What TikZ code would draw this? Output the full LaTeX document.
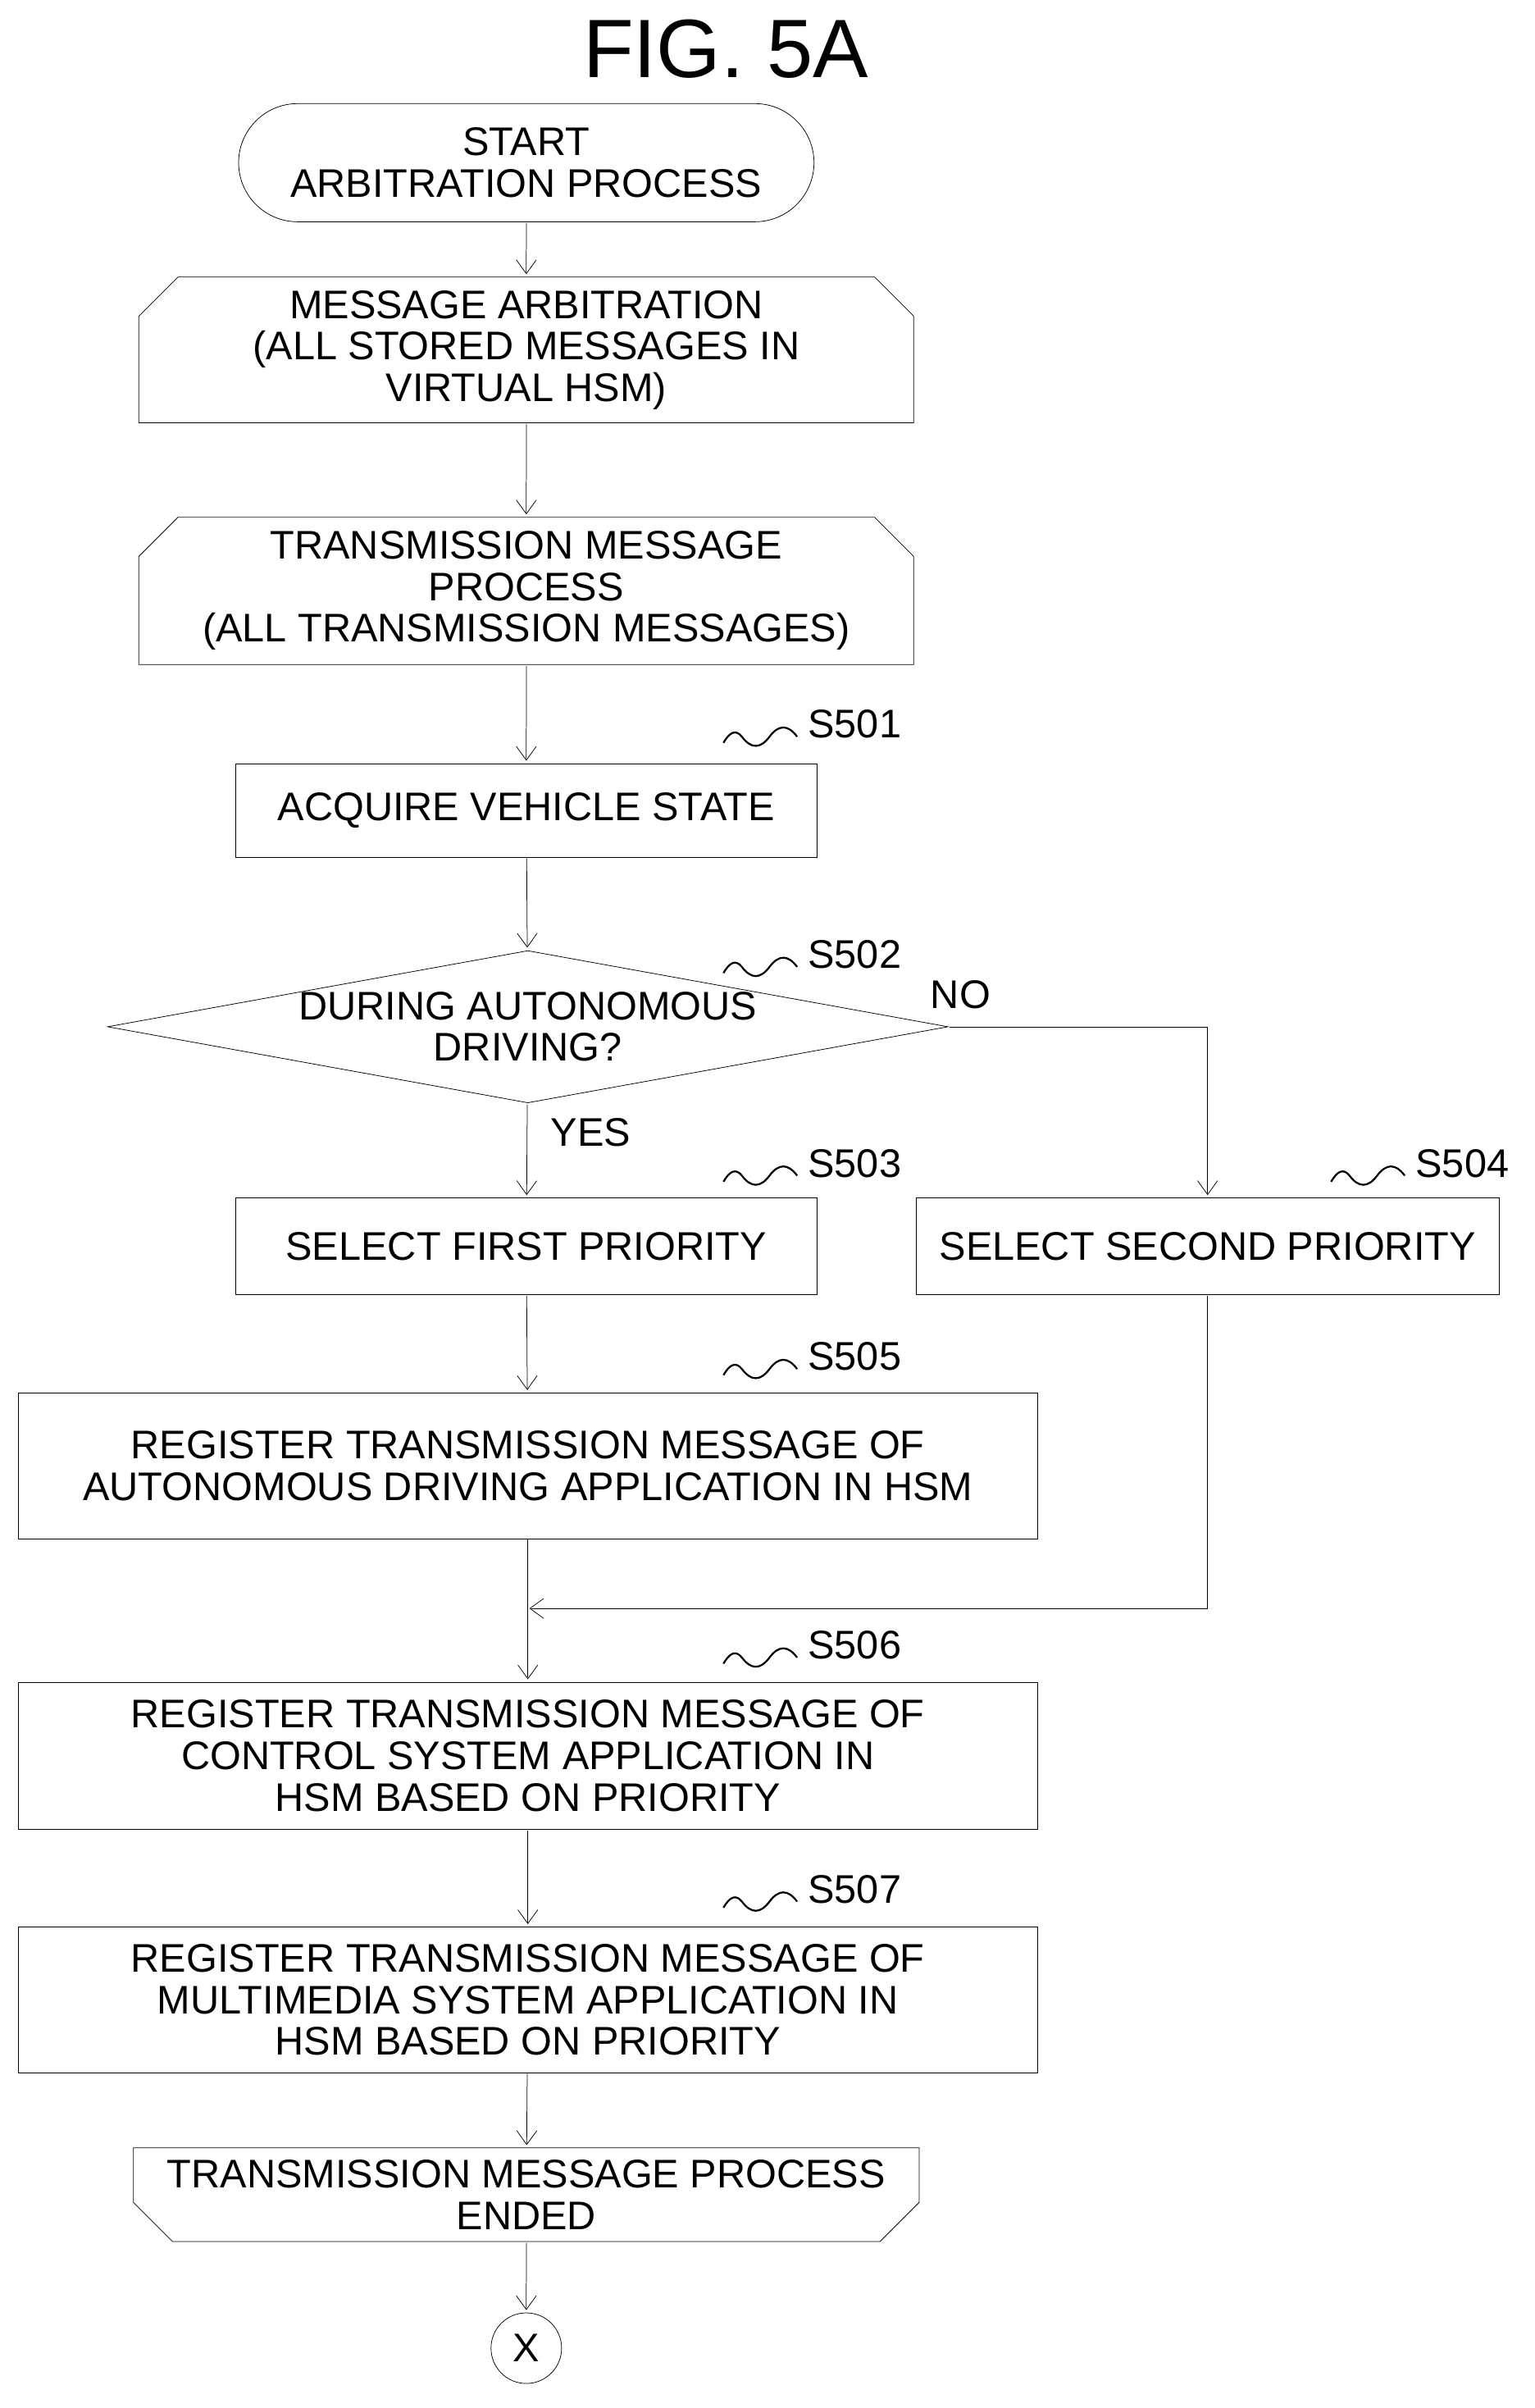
\documentclass[tikz,border=0pt]{standalone}
\usepackage{fontspec}
\setmainfont{Liberation Sans}
\usetikzlibrary{shapes.geometric,shapes.misc,arrows.meta}
\begin{document}
\begin{tikzpicture}[x=1pt,y=-1pt]
\tikzset{ >={Straight Barb[length=9pt,width=13pt]}, line width=1.6pt,
  box/.style={draw, rectangle, inner sep=0pt, align=center, font=\fontsize{26}{27}\selectfont},
  loopbeg/.style={box, chamfered rectangle, chamfered rectangle xsep=22pt,
    chamfered rectangle corners={north east,north west}},
  loopend/.style={box, chamfered rectangle, chamfered rectangle xsep=22pt,
    chamfered rectangle corners={south east,south west}},
  lbl/.style={font=\fontsize{26}{27}\selectfont},
  squig/.pic={\draw[line width=1.2pt] (0,0) .. controls (-6,-8) and (-12,-8) .. (-18,0)
     .. controls (-24,8) and (-30,8) .. (-36,0) .. controls (-40,-5) and (-44,-3) .. (-48,4);}
}
\useasboundingbox (0,0) rectangle (1000,1569);

\node [font=\fontsize{54}{56}\selectfont] (T) at (473,32) {FIG. 5A};

\node [box, rounded rectangle, minimum width=375pt, minimum height=77pt] (ST) at (343,106) {START\\ARBITRATION PROCESS};
\node [loopbeg, minimum width=505pt, minimum height=95pt] (LA) at (343,228) {MESSAGE ARBITRATION\\(ALL STORED MESSAGES IN\\VIRTUAL HSM)};
\node [loopbeg, minimum width=505pt, minimum height=96pt] (LB) at (343,385) {TRANSMISSION MESSAGE\\PROCESS\\(ALL TRANSMISSION MESSAGES)};
\node [box, minimum width=379pt, minimum height=61pt] (S501) at (343,528) {ACQUIRE VEHICLE STATE};
\node [box, diamond, aspect=5.5, minimum width=486pt, minimum height=92pt] (S502) at (344,669) {DURING AUTONOMOUS\\DRIVING?};
\node [box, minimum width=379pt, minimum height=63pt] (S503) at (343,812) {SELECT FIRST PRIORITY};
\node [box, minimum width=380pt, minimum height=63pt] (S504) at (787,812) {SELECT SECOND PRIORITY};
\node [box, minimum width=664pt, minimum height=95pt] (S505) at (344,955) {REGISTER TRANSMISSION MESSAGE OF\\AUTONOMOUS DRIVING APPLICATION IN HSM};
\node [box, minimum width=664pt, minimum height=96pt] (S506) at (344,1144) {REGISTER TRANSMISSION MESSAGE OF\\CONTROL SYSTEM APPLICATION IN\\HSM BASED ON PRIORITY};
\node [box, minimum width=664pt, minimum height=95pt] (S507) at (344,1303) {REGISTER TRANSMISSION MESSAGE OF\\MULTIMEDIA SYSTEM APPLICATION IN\\HSM BASED ON PRIORITY};
\node [loopend, minimum width=505pt, minimum height=61pt] (LE) at (343,1430) {TRANSMISSION MESSAGE PROCESS\\ENDED};
\node [box, circle, minimum size=46pt] (X) at (343,1530) {X};

\draw [->] (ST) -- (LA);
\draw [->] (LA) -- (LB);
\draw [->] (LB) -- (S501);
\draw [->] (S501) -- (S502);
\draw [->] (S502) -- (S503);
\draw [->] (S502.east) -| (S504.north);
\draw [->] (S503) -- (S505);
\draw [->] (S505) -- (S506);
\coordinate (M) at (344,1048);
\draw [->] (S504.south) |- (M);
\draw [->] (S506) -- (S507);
\draw [->] (S507) -- (LE);
\draw [->] (LE) -- (X);

\node [lbl] (NO) at (626,648) {NO};
\node [lbl] (YES) at (385,738) {YES};

\foreach \s/\x/\y in {501/557/472, 502/557/622, 503/557/758, 504/953/758, 505/557/884, 506/557/1072, 507/557/1231}
  \node [lbl] (L\s) at (\x,\y) {S\s};
\foreach \s in {501,502,503,504,505,506,507}
  \pic at ([xshift=-3pt,yshift=-8pt]L\s.west) {squig};

\end{tikzpicture}
\end{document}
